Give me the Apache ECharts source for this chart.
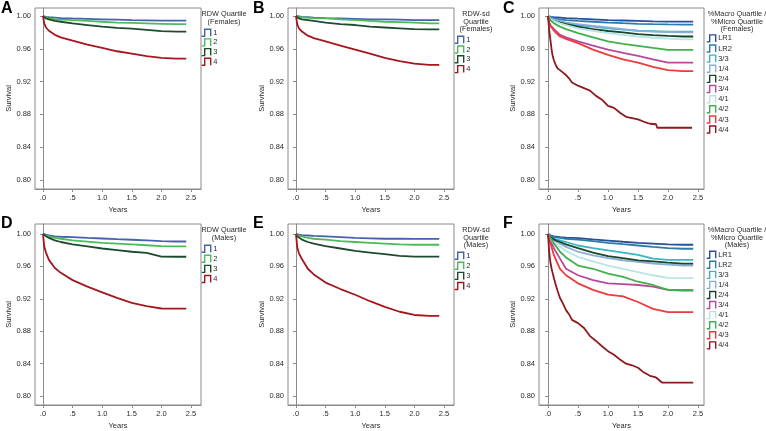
<!DOCTYPE html>
<html><head><meta charset="utf-8">
<script src="https://cdn.jsdelivr.net/npm/echarts@6/dist/echarts.min.js"></script>
<style>html,body{margin:0;padding:0;background:#fff}#c{width:766px;height:431px}</style>
</head><body><div id="c"></div>
<script>
// ---------- data ----------
const years = [0, 0.02, 0.05, 0.1, 0.2, 0.3, 0.5, 0.75, 1.0, 1.25, 1.5, 1.75, 2.0, 2.25, 2.42];
const yearsFineC = [0,0.02,0.04,0.06,0.08,0.1,0.13,0.16,0.2,0.25,0.3,0.35,0.4,0.5,0.6,0.7,0.8,0.9,1.0,1.1,1.2,1.3,1.4,1.5,1.6,1.7,1.8,1.82,2.4];
const yearsFineF = [0,0.02,0.04,0.06,0.08,0.1,0.13,0.16,0.2,0.25,0.3,0.35,0.4,0.5,0.6,0.7,0.8,0.9,1.0,1.1,1.2,1.3,1.4,1.5,1.6,1.7,1.8,1.9,2.42];

const quartileNames = ['1','2','3','4'];
const macroNames = ['LR1','LR2','3/3','1/4','2/4','3/4','4/1','4/2','4/3','4/4'];

// A: RDW quartile, females
const aQ1 = [1,0.9995,0.999,0.9985,0.998,0.9975,0.997,0.9965,0.996,0.9955,0.995,0.9947,0.9944,0.9943,0.9943];
const aQ2 = [1,0.999,0.998,0.997,0.996,0.9955,0.995,0.994,0.993,0.992,0.9915,0.991,0.9905,0.990,0.990];
const aQ3 = [1,0.998,0.997,0.996,0.994,0.993,0.991,0.989,0.987,0.9855,0.9845,0.983,0.9815,0.981,0.981];
const aQ4 = [1,0.991,0.986,0.982,0.977,0.974,0.970,0.965,0.961,0.957,0.954,0.951,0.949,0.948,0.948];
// B: RDW-sd quartile, females
const bQ1 = [1,0.9998,0.9995,0.999,0.9985,0.998,0.9975,0.997,0.9965,0.996,0.9958,0.9955,0.995,0.995,0.995];
const bQ2 = [1,0.9995,0.999,0.9985,0.998,0.9975,0.997,0.996,0.995,0.994,0.993,0.9925,0.992,0.991,0.991];
const bQ3 = [1,0.998,0.997,0.996,0.995,0.994,0.992,0.990,0.989,0.987,0.986,0.985,0.984,0.9838,0.9837];
const bQ4 = [1,0.990,0.985,0.981,0.976,0.973,0.969,0.964,0.959,0.954,0.949,0.945,0.942,0.9405,0.9404];
// D: RDW quartile, males
const dQ1 = [1,0.9995,0.999,0.998,0.997,0.9965,0.996,0.995,0.9943,0.9935,0.9928,0.992,0.991,0.9906,0.9906];
const dQ2 = [1,0.999,0.998,0.997,0.995,0.994,0.992,0.9905,0.989,0.988,0.987,0.986,0.985,0.9845,0.9845];
const dQ3 = [1,0.998,0.997,0.995,0.992,0.990,0.987,0.9845,0.982,0.980,0.978,0.9765,0.972,0.9718,0.9718];
const dQ4 = [1,0.985,0.977,0.968,0.958,0.952,0.943,0.935,0.928,0.921,0.915,0.911,0.908,0.9078,0.9078];
// E: RDW-sd quartile, males
const eQ1 = [1,0.9995,0.999,0.9985,0.998,0.9975,0.997,0.996,0.995,0.9945,0.994,0.994,0.9939,0.9939,0.9939];
const eQ2 = [1,0.999,0.998,0.997,0.995,0.994,0.993,0.991,0.990,0.989,0.988,0.987,0.9866,0.9866,0.9866];
const eQ3 = [1,0.997,0.995,0.993,0.990,0.988,0.985,0.982,0.979,0.977,0.975,0.973,0.972,0.9719,0.9719];
const eQ4 = [1,0.984,0.976,0.969,0.957,0.950,0.940,0.932,0.925,0.917,0.910,0.904,0.900,0.899,0.899];
// C: %Macro / %Micro quartile, females
const cLR1 = [1,0.9995,0.999,0.9985,0.998,0.9975,0.9967,0.996,0.995,0.9945,0.994,0.9935,0.9931,0.9931,0.9931];
const cLR2 = [1,0.999,0.998,0.997,0.996,0.995,0.994,0.993,0.992,0.9912,0.9905,0.990,0.9897,0.9895,0.9895];
const c33  = [1,0.998,0.997,0.995,0.993,0.991,0.989,0.987,0.985,0.9835,0.982,0.9815,0.981,0.981,0.981];
const c14  = [1,0.998,0.997,0.996,0.994,0.992,0.990,0.988,0.986,0.984,0.982,0.981,0.9805,0.980,0.980];
const c24  = [1,0.998,0.996,0.994,0.992,0.990,0.987,0.984,0.9817,0.980,0.978,0.9768,0.9757,0.975,0.975];
const c34  = [1,0.992,0.988,0.984,0.977,0.974,0.969,0.964,0.959,0.955,0.9513,0.947,0.9432,0.9432,0.9432];
const c41  = [1,0.998,0.996,0.994,0.991,0.989,0.985,0.982,0.979,0.977,0.975,0.9735,0.9724,0.9716,0.9716];
const c42  = [1,0.997,0.994,0.991,0.987,0.984,0.979,0.974,0.969,0.966,0.9635,0.961,0.9586,0.9586,0.9586];
const c43  = [1,0.991,0.987,0.982,0.975,0.972,0.967,0.959,0.9525,0.947,0.943,0.938,0.934,0.9327,0.9327];
const c44  = [1,0.983,0.971,0.959,0.9505,0.9456,0.940,0.936,0.934,0.931,0.928,0.924,0.919,0.915,0.912,0.909,0.9026,0.898,0.8905,0.888,0.882,0.877,0.8755,0.874,0.871,0.8686,0.868,0.8637,0.8637];
// F: %Macro / %Micro quartile, males
const fLR1 = [1,0.999,0.998,0.997,0.996,0.9955,0.9947,0.9932,0.9918,0.9903,0.989,0.988,0.987,0.9866,0.9866];
const fLR2 = [1,0.998,0.997,0.996,0.995,0.994,0.993,0.991,0.989,0.9873,0.9857,0.984,0.9825,0.9817,0.9817];
const f33  = [1,0.998,0.996,0.994,0.992,0.990,0.9857,0.9825,0.9796,0.9768,0.974,0.9695,0.968,0.968,0.968];
const f14  = [1,0.997,0.995,0.992,0.988,0.984,0.978,0.9735,0.970,0.9675,0.9654,0.9635,0.962,0.961,0.961];
const f24  = [1,0.997,0.995,0.993,0.990,0.987,0.9825,0.977,0.9727,0.970,0.9674,0.966,0.9646,0.9633,0.9633];
const f34  = [1,0.994,0.990,0.982,0.9695,0.957,0.949,0.943,0.939,0.938,0.937,0.935,0.931,0.930,0.930];
const f41  = [1,0.996,0.993,0.989,0.984,0.979,0.9715,0.966,0.961,0.957,0.953,0.949,0.9458,0.9454,0.9454];
const f42  = [1,0.997,0.994,0.988,0.978,0.971,0.961,0.957,0.951,0.947,0.941,0.937,0.931,0.9308,0.9308];
const f43  = [1,0.992,0.986,0.9735,0.957,0.949,0.939,0.931,0.925,0.923,0.916,0.9075,0.9035,0.9035,0.9035];
const f44  = [1,0.978,0.965,0.957,0.951,0.945,0.937,0.9295,0.921,0.914,0.906,0.901,0.894,0.890,0.884,0.874,0.868,0.8615,0.8554,0.851,0.845,0.840,0.838,0.835,0.829,0.825,0.823,0.8167,0.8167];

const yTicks = [0.80, 0.84, 0.88, 0.92, 0.96, 1.00];
const xTicks = [0, 0.5, 1.0, 1.5, 2.0, 2.5];

// ---------- styling / layout ----------
const qColors = ['#4662AE', '#4CBB5A', '#1D4B2E', '#A3171D'];
const mColors = ['#2E4C9E', '#2B7DA8', '#3DB3C4', '#8AAEDB', '#17472A', '#B9489C', '#B8E4E7', '#3DB24B', '#EC3A3F', '#8C1A1E'];

const FONT = '"Liberation Sans", Arial, sans-serif';
const panels = [
  {letter:'A', lx:1, ly:1, grid:{left:35, top:8, width:166, height:181}, xr:[-0.1351, 2.6689], yr:[0.78902, 1.00976],
   names:quartileNames, colors:qColors, vals:[aQ1,aQ2,aQ3,aQ4], xs:[years,years,years,years],
   legTitle:'RDW Quartile\n(Females)', tx:224, ty:10.5, leg:{left:201, top:28.5, gap:1.3}},
  {letter:'B', lx:253, ly:1, grid:{left:288, top:8, width:166, height:181}, xr:[-0.1351, 2.6689], yr:[0.78902, 1.00976],
   names:quartileNames, colors:qColors, vals:[bQ1,bQ2,bQ3,bQ4], xs:[years,years,years,years],
   legTitle:'RDW-sd\nQuartile\n(Females)', tx:476, ty:10.3, leg:{left:454, top:35.5, gap:1.4}},
  {letter:'C', lx:503, ly:1, grid:{left:539, top:8, width:165, height:181}, xr:[-0.15, 2.6], yr:[0.78902, 1.00976],
   names:macroNames, colors:mColors, vals:[cLR1,cLR2,c33,c14,c24,c34,c41,c42,c43,c44],
   xs:[years,years,years,years,years,years,years,years,years,yearsFineC],
   legTitle:'%Macro Quartile /\n%Micro Quartile\n(Females)', tx:737, ty:10.3, leg:{left:706, top:34.2, gap:1.73}},
  {letter:'D', lx:1, ly:216, grid:{left:35, top:224, width:166, height:183}, xr:[-0.1351, 2.6689], yr:[0.78902, 1.0122],
   names:quartileNames, colors:qColors, vals:[dQ1,dQ2,dQ3,dQ4], xs:[years,years,years,years],
   legTitle:'RDW Quartile\n(Males)', tx:224, ty:226.5, leg:{left:201, top:244.5, gap:1.7}},
  {letter:'E', lx:253, ly:216, grid:{left:288, top:224, width:166, height:183}, xr:[-0.1351, 2.6689], yr:[0.78902, 1.0122],
   names:quartileNames, colors:qColors, vals:[eQ1,eQ2,eQ3,eQ4], xs:[years,years,years,years],
   legTitle:'RDW-sd\nQuartile\n(Males)', tx:476, ty:226.3, leg:{left:454, top:251.5, gap:1.7}},
  {letter:'F', lx:503, ly:216, grid:{left:539, top:224, width:165, height:183}, xr:[-0.15, 2.6], yr:[0.78902, 1.0122],
   names:macroNames, colors:mColors, vals:[fLR1,fLR2,f33,f14,f24,f34,f41,f42,f43,f44],
   xs:[years,years,years,years,years,years,years,years,years,yearsFineF],
   legTitle:'%Macro Quartile /\n%Micro Quartile\n(Males)', tx:737, ty:226.3, leg:{left:706, top:250.5, gap:1.67}}
];

const ICON = 'path://M0,7 L3,7 L3,0 L9,0 L9,7';
const axisGray = '#8a8a8a';
const textCol = '#2a2a2a';

const grids = [], xAxes = [], yAxes = [], series = [], legends = [], graphics = [];
panels.forEach((p, pi) => {
  grids.push(Object.assign({show:true, borderColor:axisGray, borderWidth:1, backgroundColor:'#fff'}, p.grid));
  xAxes.push({
    gridIndex:pi, type:'value', min:p.xr[0], max:p.xr[1],
    name:'Years', nameLocation:'middle', nameGap:17,
    nameTextStyle:{fontSize:7.5, color:textCol, fontFamily:FONT},
    axisLine:{show:true, lineStyle:{color:axisGray, width:1}},
    axisTick:{show:true, length:3, customValues:xTicks, lineStyle:{color:axisGray}},
    axisLabel:{customValues:xTicks, fontSize:7.5, color:textCol, fontFamily:FONT, margin:5,
      formatter:v => { const s = Number(v).toFixed(1); return s.charAt(0) === '0' ? s.slice(1) : s; }},
    splitLine:{show:false}
  });
  yAxes.push({
    gridIndex:pi, type:'value', min:p.yr[0], max:p.yr[1],
    name:'Survival', nameLocation:'middle', nameGap:21,
    nameTextStyle:{fontSize:7.5, color:textCol, fontFamily:FONT},
    axisLine:{show:true, lineStyle:{color:axisGray, width:1}},
    axisTick:{show:true, length:3, customValues:yTicks, lineStyle:{color:axisGray}},
    axisLabel:{customValues:yTicks, fontSize:7.5, color:textCol, fontFamily:FONT, margin:4,
      formatter:v => Number(v).toFixed(2)},
    splitLine:{show:false}
  });
  const legData = [];
  p.names.forEach((n, si) => {
    const key = p.letter + ':' + n;
    const xs = p.xs[si];
    series.push({
      name:key, type:'line', xAxisIndex:pi, yAxisIndex:pi,
      data: xs.map((t, i) => [t, p.vals[si][i]]),
      showSymbol:false, symbol:'none',
      lineStyle:{color:p.colors[si], width:1.8}, itemStyle:{color:p.colors[si]},
      silent:true, z:2
    });
    legData.push({name:key, icon:ICON, itemStyle:{color:'rgba(0,0,0,0)', borderColor:p.colors[si], borderWidth:1.4}});
  });
  legends.push({
    orient:'vertical', left:p.leg.left, top:p.leg.top, padding:0, itemGap:p.leg.gap,
    itemWidth:10, itemHeight:7, selectedMode:false, data:legData,
    formatter:name => name.split(':')[1],
    textStyle:{fontSize:7.5, color:textCol, fontFamily:FONT, lineHeight:7, padding:[0,0,0,-3]}
  });
  graphics.push({type:'text', x:p.tx, y:p.ty, silent:true,
    style:{text:p.legTitle, textAlign:'center', textVerticalAlign:'top', fontSize:7.3, lineHeight:7.5,
      fontFamily:FONT, fill:textCol}});
  graphics.push({type:'text', x:p.lx, y:p.ly, silent:true,
    style:{text:p.letter, fontSize:16, fontWeight:'bold', fontFamily:FONT, fill:'#000', textVerticalAlign:'top'}});
});

const chart = echarts.init(document.getElementById('c'), null, {renderer:'canvas'});
chart.setOption({
  animation:false, backgroundColor:'#fff',
  grid:grids, xAxis:xAxes, yAxis:yAxes, series:series, legend:legends, graphic:graphics
});
</script></body></html>
